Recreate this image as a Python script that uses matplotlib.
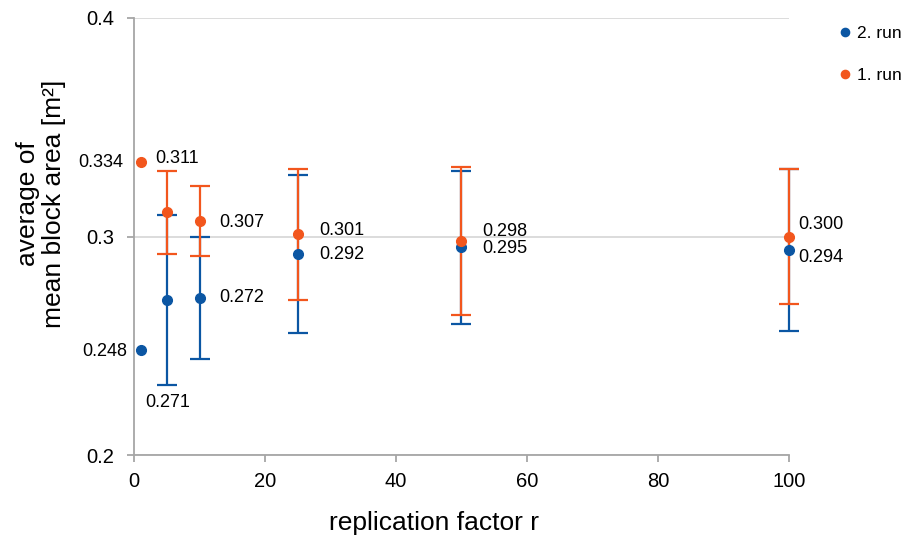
import numpy as np
import matplotlib.pyplot as plt

plt.rcParams['font.family'] = ['Liberation Sans', 'DejaVu Sans']

# data
r = [1, 5, 10, 25, 50, 100]
run1 = [0.334, 0.311, 0.307, 0.301, 0.298, 0.300]
run1_err = [0.0, 0.019, 0.016, 0.030, 0.034, 0.031]
run2 = [0.248, 0.271, 0.272, 0.292, 0.295, 0.294]
run2_err = [0.0, 0.039, 0.028, 0.036, 0.035, 0.037]
run1_labels = ['0.334', '0.311', '0.307', '0.301', '0.298', '0.300']
run2_labels = ['0.248', '0.271', '0.272', '0.292', '0.295', '0.294']

# label offsets in pixels (dx, dy, ha)
run1_off = [(-17, 0, 'right'), (-12, 54, 'left'), (20, -1, 'left'), (21, 4, 'left'), (21, 9, 'left'), (9, 12, 'left')]
run2_off = [(-13, -1, 'right'), (-22, -103, 'left'), (20, 0, 'left'), (21, 0, 'left'), (21, -1, 'left'), (9, -8, 'left')]

blue = '#0b56a3'
orange = '#f2561d'

fig = plt.figure(figsize=(9.12, 5.4), dpi=100)
ax = fig.add_axes([0.147, 0.157, 0.718, 0.810])

# error bars (first point has none)
ax.errorbar(r[1:], run2[1:], yerr=run2_err[1:], fmt='none', ecolor=blue, elinewidth=1.6,
            capsize=7, capthick=1.6, zorder=3, clip_on=False)
ax.errorbar(r[1:], run1[1:], yerr=run1_err[1:], fmt='none', ecolor=orange, elinewidth=1.6,
            capsize=7, capthick=1.6, zorder=4, clip_on=False)
ax.plot(r, run2, 'o', color=blue, ms=7, label='2. run', zorder=5, clip_on=False)
ax.plot(r, run1, 'o', color=orange, ms=7, label='1. run', zorder=6, clip_on=False)

for i in range(len(r)):
    dx, dy, ha = run1_off[i]
    ax.annotate(run1_labels[i], (r[i], run1[i]), xytext=(dx, dy), textcoords='offset pixels',
                ha=ha, va='center', fontsize=13)
    dx, dy, ha = run2_off[i]
    ax.annotate(run2_labels[i], (r[i], run2[i]), xytext=(dx, dy), textcoords='offset pixels',
                ha=ha, va='center', fontsize=13)

ax.set_xlim(0, 100)
ax.set_ylim(0.2, 0.4)
ax.set_xticks([0, 20, 40, 60, 80, 100])
ax.set_yticks([0.2, 0.3, 0.4])
ax.set_yticklabels(['0.2', '0.3', '0.4'])
ax.yaxis.grid(True, color='#d9d9d9', lw=1.3)
ax.set_axisbelow(True)
for s in ['top', 'right']:
    ax.spines[s].set_visible(False)
for s in ['left', 'bottom']:
    ax.spines[s].set_color('#a6a6a6')
    ax.spines[s].set_linewidth(1.3)
ax.tick_params(colors='#a6a6a6', labelcolor='black', labelsize=14.5, length=5, width=1.3)
ax.tick_params(axis='x', pad=7)
ax.tick_params(axis='y', pad=9)

fig.text(434 / 912, 1 - 523 / 540, 'replication factor r', fontsize=19, ha='center', va='center')
fig.text(41 / 912, 1 - 204 / 540, 'average of\nmean block area [m²]', fontsize=19,
         rotation=90, ha='center', va='center', multialignment='center', linespacing=1.15)

fig.legend(loc='upper left', bbox_to_anchor=(826 / 912, 1 - 17 / 540), frameon=False, fontsize=12.5,
           handletextpad=0.1, labelspacing=1.55, markerscale=0.85, handlelength=1.2, borderpad=0)

plt.savefig('out.png', dpi=100)
